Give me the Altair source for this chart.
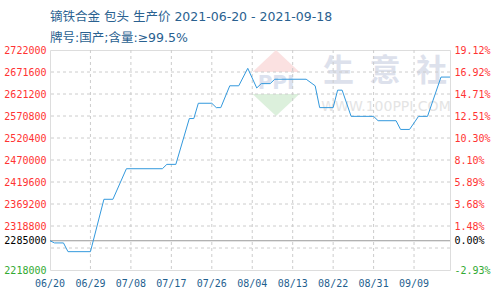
import altair as alt
import pandas as pd

TITLE = "镝铁合金 包头 生产价 2021-06-20 - 2021-09-18"
SUBTITLE = "牌号:国产;含量:≥99.5%"

DATES = [
    "2021-06-20", "2021-06-21", "2021-06-23", "2021-06-24", "2021-06-29",
    "2021-07-02", "2021-07-04", "2021-07-07", "2021-07-15", "2021-07-16",
    "2021-07-18", "2021-07-21", "2021-07-22", "2021-07-23", "2021-07-26",
    "2021-07-27", "2021-07-28", "2021-07-30", "2021-08-01", "2021-08-03",
    "2021-08-05", "2021-08-06", "2021-08-08", "2021-08-09", "2021-08-16",
    "2021-08-18", "2021-08-19", "2021-08-22", "2021-08-23", "2021-08-24",
    "2021-08-26", "2021-08-31", "2021-09-01", "2021-09-05", "2021-09-06",
    "2021-09-08", "2021-09-10", "2021-09-12", "2021-09-15", "2021-09-17",
]
PRICES = [
    2285000, 2280000, 2280000, 2260000, 2260000,
    2380000, 2380000, 2450000, 2450000, 2460000,
    2460000, 2565000, 2565000, 2600000, 2600000,
    2590000, 2590000, 2640000, 2640000, 2680000,
    2635000, 2645000, 2645000, 2655000, 2655000,
    2640000, 2590000, 2590000, 2630000, 2630000,
    2570000, 2570000, 2560000, 2560000, 2540000,
    2540000, 2570000, 2570000, 2660000, 2660000,
]

START = "2021-06-20"
END = "2021-09-17"
BASE_PRICE = 2285000
Y_MIN = 2218000
Y_MAX = 2722000
Y_LABEL_VALUES = [2722000, 2671600, 2621200, 2570800, 2520400, 2470000,
                  2419600, 2369200, 2318800, 2285000, 2218000]
Y_GRID_VALUES = [2671600, 2621200, 2570800, 2520400, 2470000,
                 2419600, 2369200, 2318800, 2268400]
X_TICK_DATES = ["2021-06-20", "2021-06-29", "2021-07-08", "2021-07-17",
                "2021-07-26", "2021-08-04", "2021-08-13", "2021-08-22",
                "2021-08-31", "2021-09-09"]
X_TICK_LABELS = ["06/20", "06/29", "07/08", "07/17", "07/26",
                 "08/04", "08/13", "08/22", "08/31", "09/09"]

start = pd.to_datetime(START)
df = pd.DataFrame({"date": DATES, "price": PRICES})
df["day"] = (pd.to_datetime(df["date"]) - start).dt.days.astype(int)
end_day = int((pd.to_datetime(END) - start).days)
tick_days = [int((pd.to_datetime(d) - start).days) for d in X_TICK_DATES]
ticks_df = pd.DataFrame({"day": tick_days, "label": X_TICK_LABELS})

xscale = alt.Scale(domain=[0, end_day], nice=False, zero=False)
yscale = alt.Scale(domain=[Y_MIN, Y_MAX], nice=False, zero=False)

LABEL_FONT = "DejaVu Sans Mono"
TITLE_FONT = "DejaVu Sans, Noto Sans CJK SC"
label_color = {
    "condition": [
        {"test": f"datum.value == {BASE_PRICE}", "value": "#000000"},
        {"test": f"datum.value == {Y_MIN}", "value": "#33aa33"},
    ],
    "value": "#ff3333",
}

left_axis = alt.Axis(values=Y_LABEL_VALUES, title=None, grid=False, ticks=False,
                     domain=False, labelFont=LABEL_FONT, labelFontSize=10,
                     labelPadding=4, labelColor=label_color, format="d",
                     labelOverlap=False)
right_axis = alt.Axis(values=Y_LABEL_VALUES, title=None, grid=False, ticks=False,
                      domain=False, orient="right", labelFont=LABEL_FONT,
                      labelFontSize=10, labelPadding=4, labelColor=label_color,
                      labelOverlap=False,
                      labelExpr=f"replace(format(datum.value / {BASE_PRICE} * 100 - 100, '.2f'), '\u2212', '-') + '%'")

one = pd.DataFrame({"t": ["x"]})

# watermark (positions relative to the plot area)
wm_logo_top = alt.Chart(one).mark_point(
    shape="M -1 0 L 0 -0.94 L 1 0 Z", filled=True, color="#fbe1e1", opacity=1, size=2200
).encode(x=alt.value(226), y=alt.value(22))
wm_logo_bot = alt.Chart(one).mark_point(
    shape="M -1 0 L 0 0.94 L 1 0 Z", filled=True, color="#dcf0dc", opacity=1, size=2200
).encode(x=alt.value(226), y=alt.value(44))
wm_ppi = alt.Chart(pd.DataFrame({"t": ["PPI"]})).mark_text(
    font="DejaVu Sans", fontSize=20, fontWeight="bold", color="#dce2ef"
).encode(x=alt.value(226), y=alt.value(33), text="t:N")
wm_cn = alt.Chart(pd.DataFrame({"t": ["生\u2002意\u2002社"]})).mark_text(
    font="Noto Sans CJK SC", fontSize=31, fontWeight="bold", color="#dde1ec"
).encode(x=alt.value(335), y=alt.value(22), text="t:N")
wm_url = alt.Chart(pd.DataFrame({"t": ["WWW.100PPI.COM"]})).mark_text(
    font="DejaVu Sans", fontSize=14, color="#e4e4e4"
).encode(x=alt.value(336), y=alt.value(57), text="t:N")

vgrid = alt.Chart(ticks_df[ticks_df["day"] > 0]).mark_rule(
    color="#cccccc", strokeDash=[3, 3], strokeWidth=1
).encode(x=alt.X("day:Q", scale=xscale, axis=None))
hgrid = alt.Chart(pd.DataFrame({"v": Y_GRID_VALUES})).mark_rule(
    color="#cccccc", strokeDash=[3, 3], strokeWidth=1
).encode(y=alt.Y("v:Q", scale=yscale, axis=None))
baseline = alt.Chart(pd.DataFrame({"v": [BASE_PRICE]})).mark_rule(
    color="#999999", strokeWidth=1
).encode(y=alt.Y("v:Q", scale=yscale, axis=None))

# x tick labels drawn under the plot through the shared x scale
xlabels = alt.Chart(ticks_df).mark_text(
    font=LABEL_FONT, fontSize=10, color="#1f5f8f", baseline="top", align="center"
).encode(
    x=alt.X("day:Q", scale=xscale, axis=None),
    y=alt.value(229),
    text="label:N",
)

line = alt.Chart(df).mark_line(color="#3399dd", strokeWidth=1).encode(
    x=alt.X("day:Q", scale=xscale, axis=None),
    y=alt.Y("price:Q", scale=yscale, axis=left_axis),
)
right = alt.Chart(df).mark_line(opacity=0).encode(
    x=alt.X("day:Q", scale=xscale, axis=None),
    y=alt.Y("price:Q", scale=yscale, axis=right_axis),
)

chart = alt.layer(
    wm_logo_top, wm_logo_bot, wm_ppi, wm_cn, wm_url,
    vgrid, hgrid, baseline, xlabels, line, right
).resolve_axis(y="independent").properties(
    width=400, height=220,
    autosize="none",
    padding={"left": 50, "top": 50, "right": 50, "bottom": 30},
    title=alt.TitleParams(
        text=TITLE, subtitle=SUBTITLE, anchor="start", frame="group",
        font=TITLE_FONT, fontSize=12.5, fontWeight="normal", color="#2a6190",
        subtitleFont=TITLE_FONT, subtitleFontSize=12.5, subtitleColor="#2a6190",
        subtitlePadding=8, offset=1,
    ),
).configure_view(stroke="#999999", strokeWidth=1).configure(background="white")

chart.save("out.html", embed_options={"renderer": "svg", "actions": False})
